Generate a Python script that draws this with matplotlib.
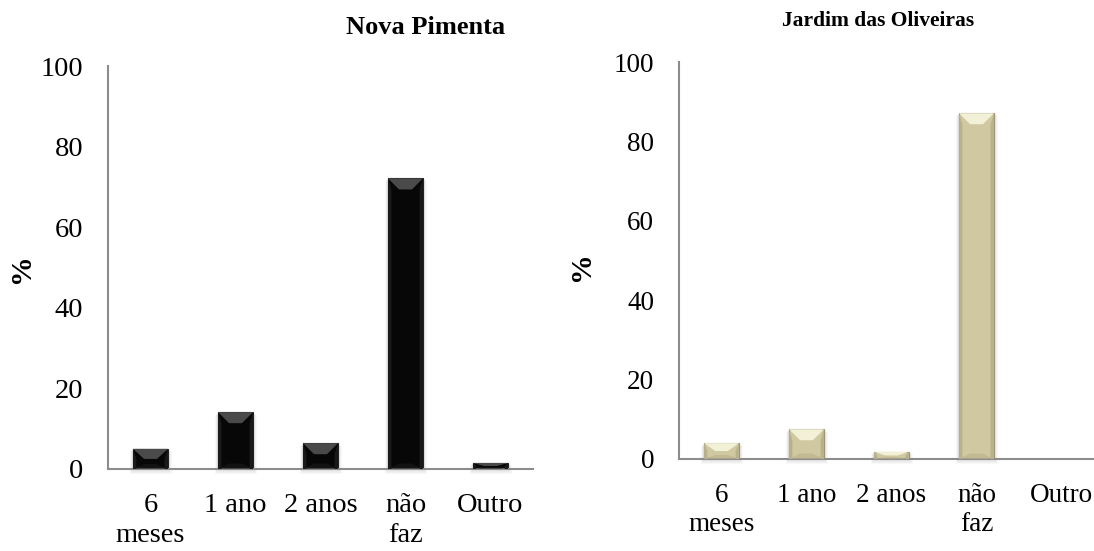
import numpy as np
import matplotlib
matplotlib.use("Agg")
import matplotlib.pyplot as plt
from matplotlib.patches import Polygon, Rectangle

plt.rcParams['font.family'] = ['Liberation Serif', 'DejaVu Serif']

# Frequency of the activity, in % of households
categories = ["6\nmeses", "1 ano", "2 anos", "não\nfaz", "Outro"]
nova_pimenta = [5.0, 14.1, 6.4, 72.1, 1.5]
jardim_oliveiras = [4.0, 7.5, 1.8, 87.1, 0.0]


def bevel_bars(ax, values, body, light, dark, side):
    x = np.arange(len(values))
    bars = ax.bar(x, values, width=0.41, color=body, edgecolor=dark,
                  linewidth=0.8, zorder=2)
    # pixel size of the bevel converted to data units
    fig = ax.figure
    fig.canvas.draw()
    inv = ax.transData.inverted()
    p0 = inv.transform((0, 0))
    p1 = inv.transform((1, 1))
    px, py = p1[0] - p0[0], p1[1] - p0[1]
    bx, by = 11 * px, 11 * py
    for b in bars:
        x0, w, h = b.get_x(), b.get_width(), b.get_height()
        if h <= 0:
            continue
        x1 = x0 + w
        dy = min(by, h / 2)
        dx = min(bx, w / 2)
        # soft shadow round the bar
        for k in range(1, 6):
            ax.add_patch(Rectangle((x0 - px * k * 0.6, -py * k * 0.9),
                                   w + px * k * 1.4, h + py * k * 0.4,
                                   facecolor="#808080", alpha=0.05,
                                   edgecolor="none", zorder=1, clip_on=False))
        # top bevel
        ax.add_patch(Polygon([(x0, h), (x1, h), (x1 - dx, h - dy), (x0 + dx, h - dy)],
                             closed=True, facecolor=light, edgecolor="none", zorder=3))
        # left and right bevels
        ax.add_patch(Polygon([(x0, h), (x0 + dx * 0.3, h - dy), (x0 + dx * 0.3, 0), (x0, 0)],
                             closed=True, facecolor=side, edgecolor="none", zorder=3))
        ax.add_patch(Polygon([(x1, h), (x1 - dx * 0.3, h - dy), (x1 - dx * 0.3, 0), (x1, 0)],
                             closed=True, facecolor=side, edgecolor="none", zorder=3))
        # bottom bevel
        ax.add_patch(Polygon([(x0, 0), (x1, 0), (x1 - dx, dy * 0.5), (x0 + dx, dy * 0.5)],
                             closed=True, facecolor=side, alpha=0.6, edgecolor="none", zorder=3))
    return bars


def style_axes(ax, fs, ls):
    ax.set_xlim(-0.5, len(categories) - 0.5)
    ax.set_ylim(0, 100)
    ax.set_yticks(range(0, 101, 20))
    ax.set_xticks(range(len(categories)))
    ax.set_xticklabels(categories, linespacing=ls)
    for s in ["top", "right"]:
        ax.spines[s].set_visible(False)
    for s in ["left", "bottom"]:
        ax.spines[s].set_color("#8c8c8c")
        ax.spines[s].set_linewidth(1.5)
    ax.tick_params(axis="both", length=0, labelsize=fs)
    ax.tick_params(axis="y", pad=18)
    ax.tick_params(axis="x", pad=17)


fig = plt.figure(figsize=(10.94, 5.51), dpi=100)

ax1 = fig.add_axes([108 / 1094, 82 / 551, 425 / 1094, 403 / 551])
style_axes(ax1, 20.5, 1.28)
bevel_bars(ax1, nova_pimenta, "#070707", "#4a4a4a", "#222222", "#1a1a1a")

ax2 = fig.add_axes([679 / 1094, 92 / 551, 425 / 1094, 397 / 551])
style_axes(ax2, 19.5, 1.22)
bevel_bars(ax2, jardim_oliveiras, "#cfc8a0", "#f3f0d8", "#9d9675", "#b8b18b")

fig.text(426 / 1094, 1 - 28 / 551, "Nova Pimenta", ha="center", va="center",
         fontsize=19, fontweight="bold")
fig.text(878 / 1094, 1 - 21 / 551, "Jardim das Oliveiras", ha="center", va="center",
         fontsize=15.5, fontweight="bold")
fig.text(22 / 1094, 1 - 268 / 551, "%", rotation=90, ha="center", va="center",
         fontsize=21.5, fontweight="bold")
fig.text(581 / 1094, 1 - 266 / 551, "%", rotation=90, ha="center", va="center",
         fontsize=21.5, fontweight="bold")

fig.savefig("out.png", dpi=100)
